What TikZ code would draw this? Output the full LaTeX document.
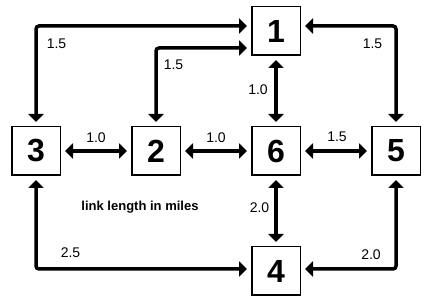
\documentclass[tikz,border=0pt]{standalone}
\usepackage{fontspec}
\setmainfont{Liberation Sans}
\usetikzlibrary{arrows.meta}

\tikzset{
  site/.style={draw, line width=1.5pt, minimum size=48.5pt, inner sep=0pt,
    font=\fontsize{32}{32}\selectfont\bfseries},
  link/.style={{Triangle[length=8pt,width=15pt]}-{Triangle[length=8pt,width=15pt]},
    line width=3.5pt, rounded corners=3pt, shorten <=4pt, shorten >=4pt},
  dist/.style={inner sep=0pt, font=\fontsize{14}{14}\selectfont},
}

\begin{document}
\begin{tikzpicture}[x=1pt, y=-1pt]
		\useasboundingbox (0,0) rectangle (440,302);
		%Sites of the network
		\node[site] (S1) at (276,31) {1};
		\node[site] (S3) at (36,151) {3};
		\node[site] (S2) at (156,151) {2};
		\node[site] (S6) at (276,151) {6};
		\node[site] (S5) at (396,151) {5};
		\node[site] (S4) at (276,271) {4};
		%Links
		\draw[link] (S3) -- (S2);
		\draw[link] (S2) -- (S6);
		\draw[link] (S6) -- (S5);
		\draw[link] (S1) -- (S6);
		\draw[link] (S6) -- (S4);
		\draw[link] (S3.north) |- ([yshift=5pt]S1.west);
		\draw[link] (S2.north) |- ([yshift=-17pt]S1.west);
		\draw[link] ([yshift=5pt]S1.east) -| (S5.north);
		\draw[link] (S3.south) |- ([yshift=2pt]S4.west);
		\draw[link] ([yshift=2pt]S4.east) -| (S5.south);
		%Lengths
		\node[dist] (L32) at (96,138) {1.0};
		\node[dist] (L26) at (216,138) {1.0};
		\node[dist] (L65) at (337,137) {1.5};
		\node[dist] (L16) at (258,90) {1.0};
		\node[dist] (L64) at (259.5,208) {2.0};
		\node[dist] (L13) at (56.5,44) {1.5};
		\node[dist] (L12) at (173.5,65) {1.5};
		\node[dist] (L15) at (372.5,44) {1.5};
		\node[dist] (L34) at (70.5,252.5) {2.5};
		\node[dist] (L45) at (371,255) {2.0};
		\node[inner sep=0pt, font=\fontsize{13}{13}\selectfont\bfseries] (key) at (140,207) {link length in miles};
	\end{tikzpicture}
\end{document}
